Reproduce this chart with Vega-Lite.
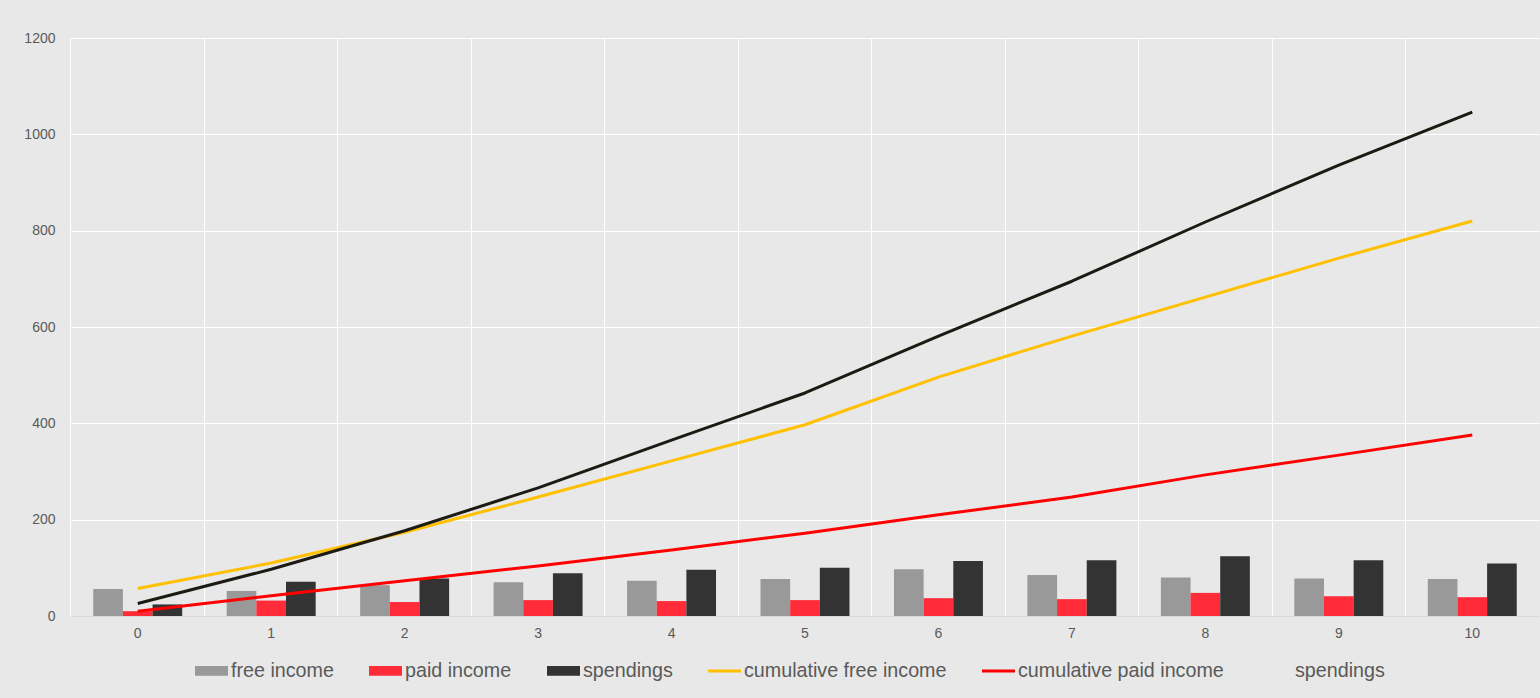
{
  "$schema": "https://vega.github.io/schema/vega-lite/v6.json",
  "width": 1468,
  "height": 578,
  "autosize": "none",
  "padding": {"left": 71, "top": 38, "right": 1, "bottom": 82},
  "background": "#e7e8e7",
  "config": {
    "view": {"stroke": null},
    "font": "Liberation Sans",
    "axis": {"labelFont": "Liberation Sans", "labelColor": "#595959", "labelFontSize": 14, "ticks": false, "gridColor": "#ffffff", "gridWidth": 1, "gridOpacity": 1, "title": null}
  },
  "data": {
    "values": [
      {"x": 0, "series": "free income", "value": 56},
      {"x": 1, "series": "free income", "value": 52},
      {"x": 2, "series": "free income", "value": 64},
      {"x": 3, "series": "free income", "value": 70},
      {"x": 4, "series": "free income", "value": 73},
      {"x": 5, "series": "free income", "value": 77},
      {"x": 6, "series": "free income", "value": 97},
      {"x": 7, "series": "free income", "value": 85},
      {"x": 8, "series": "free income", "value": 80},
      {"x": 9, "series": "free income", "value": 78},
      {"x": 10, "series": "free income", "value": 77},
      {"x": 0, "series": "paid income", "value": 10},
      {"x": 1, "series": "paid income", "value": 32},
      {"x": 2, "series": "paid income", "value": 29},
      {"x": 3, "series": "paid income", "value": 33},
      {"x": 4, "series": "paid income", "value": 31},
      {"x": 5, "series": "paid income", "value": 33},
      {"x": 6, "series": "paid income", "value": 37},
      {"x": 7, "series": "paid income", "value": 35},
      {"x": 8, "series": "paid income", "value": 48},
      {"x": 9, "series": "paid income", "value": 41},
      {"x": 10, "series": "paid income", "value": 39},
      {"x": 0, "series": "spendings", "value": 24},
      {"x": 1, "series": "spendings", "value": 71},
      {"x": 2, "series": "spendings", "value": 78},
      {"x": 3, "series": "spendings", "value": 89},
      {"x": 4, "series": "spendings", "value": 96},
      {"x": 5, "series": "spendings", "value": 100},
      {"x": 6, "series": "spendings", "value": 114},
      {"x": 7, "series": "spendings", "value": 116},
      {"x": 8, "series": "spendings", "value": 124},
      {"x": 9, "series": "spendings", "value": 116},
      {"x": 10, "series": "spendings", "value": 109},
      {"x": 0, "series": "cumulative free income", "value": 57},
      {"x": 1, "series": "cumulative free income", "value": 110},
      {"x": 2, "series": "cumulative free income", "value": 174},
      {"x": 3, "series": "cumulative free income", "value": 247},
      {"x": 4, "series": "cumulative free income", "value": 322},
      {"x": 5, "series": "cumulative free income", "value": 397},
      {"x": 6, "series": "cumulative free income", "value": 496},
      {"x": 7, "series": "cumulative free income", "value": 581},
      {"x": 8, "series": "cumulative free income", "value": 662},
      {"x": 9, "series": "cumulative free income", "value": 743},
      {"x": 10, "series": "cumulative free income", "value": 820},
      {"x": 0, "series": "cumulative paid income", "value": 10},
      {"x": 1, "series": "cumulative paid income", "value": 42},
      {"x": 2, "series": "cumulative paid income", "value": 73},
      {"x": 3, "series": "cumulative paid income", "value": 104},
      {"x": 4, "series": "cumulative paid income", "value": 137},
      {"x": 5, "series": "cumulative paid income", "value": 172},
      {"x": 6, "series": "cumulative paid income", "value": 210},
      {"x": 7, "series": "cumulative paid income", "value": 247},
      {"x": 8, "series": "cumulative paid income", "value": 293},
      {"x": 9, "series": "cumulative paid income", "value": 334},
      {"x": 10, "series": "cumulative paid income", "value": 376},
      {"x": 0, "series": "cumulative spendings", "value": 26},
      {"x": 1, "series": "cumulative spendings", "value": 97},
      {"x": 2, "series": "cumulative spendings", "value": 177},
      {"x": 3, "series": "cumulative spendings", "value": 266},
      {"x": 4, "series": "cumulative spendings", "value": 365},
      {"x": 5, "series": "cumulative spendings", "value": 463},
      {"x": 6, "series": "cumulative spendings", "value": 581},
      {"x": 7, "series": "cumulative spendings", "value": 695},
      {"x": 8, "series": "cumulative spendings", "value": 818},
      {"x": 9, "series": "cumulative spendings", "value": 936},
      {"x": 10, "series": "cumulative spendings", "value": 1046}
    ]
  },
  "encoding": {
    "x": {
      "field": "x", "type": "ordinal", "sort": "ascending",
      "scale": {"paddingInner": 0, "paddingOuter": 0},
      "axis": {"labelAngle": 0, "labelPadding": 10, "grid": true, "bandPosition": 0, "domainColor": "#d9d9d9", "domainWidth": 1}
    },
    "y": {
      "field": "value", "type": "quantitative",
      "scale": {"domain": [0, 1200], "nice": false},
      "axis": {"values": [0, 200, 400, 600, 800, 1000, 1200], "format": "d", "domain": false, "labelPadding": 16, "grid": true}
    },
    "color": {
      "field": "series", "type": "nominal",
      "scale": {
        "domain": ["free income", "paid income", "spendings", "cumulative free income", "cumulative paid income", "cumulative spendings"],
        "range": ["#999999", "#ff2b38", "#333333", "#ffc000", "#ff0000", "#1c1a12"]
      },
      "legend": {
        "title": null,
        "orient": "none",
        "legendX": 124,
        "legendY": 616,
        "direction": "horizontal",
        "columnPadding": 35,
        "labelOffset": 3,
        "labelFont": "Liberation Sans",
        "labelFontSize": 19.7,
        "labelColor": "#595959",
        "labelLimit": 400,
        "symbolSize": 1089,
        "labelExpr": "datum.label == 'cumulative spendings' ? 'spendings' : datum.label",
        "encode": {
          "symbols": {
            "update": {
              "shape": {"signal": "indexof(['cumulative free income','cumulative paid income','cumulative spendings'], datum.value) >= 0 ? 'M-1,-0.09H1V0.09H-1Z' : 'M-1,-0.3H1V0.3H-1Z'"},
              "fill": {"scale": "color", "field": "value"},
              "stroke": {"value": "transparent"},
              "strokeWidth": {"value": 0},
              "opacity": {"signal": "datum.value == 'cumulative spendings' ? 0 : 1"}
            }
          }
        }
      }
    }
  },
  "layer": [
    {
      "transform": [{"filter": {"field": "series", "oneOf": ["free income", "paid income", "spendings"]}}],
      "mark": {"type": "bar"},
      "encoding": {
        "xOffset": {"field": "series", "type": "nominal", "scale": {"domain": ["free income", "paid income", "spendings"], "paddingInner": 0, "paddingOuter": 0.75}}
      }
    },
    {
      "transform": [{"filter": {"field": "series", "oneOf": ["cumulative free income", "cumulative paid income", "cumulative spendings"]}}],
      "mark": {"type": "line", "strokeWidth": 3, "strokeJoin": "round"},
      "encoding": {}
    }
  ]
}
